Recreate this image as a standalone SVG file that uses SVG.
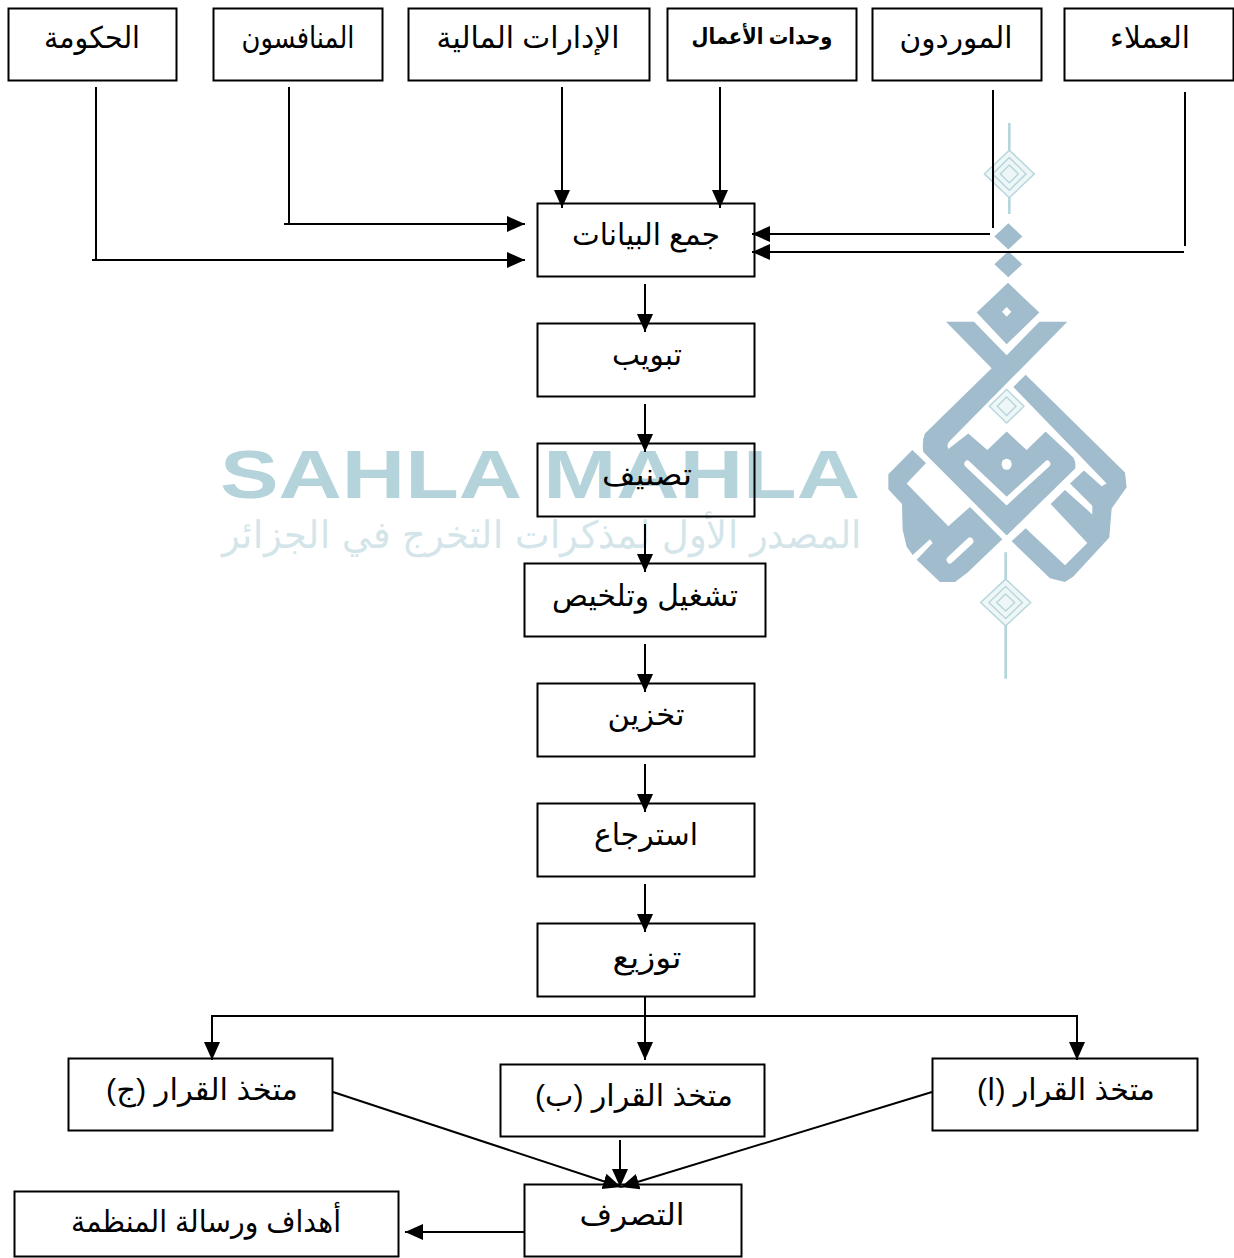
<svg xmlns="http://www.w3.org/2000/svg" width="1234" height="1258" viewBox="0 0 1234 1258">
<style>
.box{fill:none;stroke:#000;stroke-width:2;transform:translate(.5px,.5px)}
.lbl{font-family:"Liberation Sans","DejaVu Sans",sans-serif;font-size:30px;fill:#000;text-anchor:middle;direction:rtl}
.bold{font-weight:bold;font-size:22px}
.c{fill:none;stroke:#000;stroke-width:2}
.a{marker-end:url(#arrow)}
.lg{fill:#a0bccd}
.th{fill:none;stroke:#b5d6dc;stroke-width:4}
.slit{fill:none;stroke:#fff;stroke-width:18;stroke-linecap:round;stroke-linejoin:miter}
</style>
<defs>
<marker id="arrow" markerUnits="userSpaceOnUse" markerWidth="20" markerHeight="18" refX="18" refY="8" orient="auto">
<path d="M0 0L18 8L0 16Z" fill="#000"/>
</marker>
</defs>
<rect width="1234" height="1258" fill="#fff"/>
<g id="watermark">
<text x="540" y="498" text-anchor="middle" textLength="640" lengthAdjust="spacingAndGlyphs" style="font-family:'Liberation Sans',sans-serif;font-weight:bold;font-size:68px;fill:#b5d3da">SAHLA MAHLA</text>
<text x="542" y="548" text-anchor="middle" direction="rtl" textLength="640" lengthAdjust="spacingAndGlyphs" style="font-family:'DejaVu Sans',sans-serif;font-weight:200;font-size:38px;fill:#d3e5e9">المصدر الأول لمذكرات التخرج في الجزائر</text>
<g transform="translate(880,110) scale(.3333,.3717)">
<path class="th" d="M388 35V110M388 235V280M377 1190V1265M377 1385V1530" style="stroke-width:8"/>
<path class="th" d="M388 108L463 172L388 236L313 172ZM388 128L438 172L388 216L338 172ZM388 148L415 172L388 196L361 172Z" style="fill:#eef6f7"/>
<path class="th" d="M377 1262L452 1325L377 1388L302 1325ZM377 1282L427 1325L377 1368L327 1325ZM377 1302L404 1325L377 1348L350 1325Z" style="fill:#eef6f7"/>
<path class="th" d="M380 752L432 797L380 842L328 797ZM380 772L408 797L380 822L352 797Z" style="fill:#eef6f7"/>
<path class="lg" d="M385 305L427 340L385 375L343 340ZM385 380L427 415L385 450L343 415Z"/>
<path class="lg" fill-rule="evenodd" d="M384 465L478 545L380 630L290 545ZM380 530L366 543L380 556L394 543Z"/>
<path class="lg" d="M198 570H282L380 660L478 570H562L210 890Q198 900 205 912L265 870L322 915L380 865L440 915L497 865L580 935Q590 950 585 965L380 1145L130 920Q125 890 135 870L335 695Z"/>
<path class="slit" d="M262 952L380 1052L502 952"/>
<circle cx="380" cy="953" r="15" fill="#fff"/>
<path class="lg" d="M437 712L735 975L740 1015L695 1072L688 1150L580 1255L555 1270L510 1260L395 1160L437 1125L555 1225L622 1165L512 1060L555 1022L637 1088V1065L570 1005L612 970L665 1012L680 1005L400 745Z"/>
<path class="lg" d="M97 915L138 950L80 1005L205 1120L270 1068L367 1155L262 1245L225 1270H180L110 1210L158 1165L150 1155L98 1197L80 1175L68 1130L66 1060L25 1020V980Z"/>
<path class="slit" d="M210 1210L270 1160" style="stroke-width:20"/>
</g>
</g>
<g id="connectors">
<path class="c" d="M96 87V260M289 87V224M993 90V228M1185 92V246"/>
<path class="c a" d="M92 260H525"/>
<path class="c a" d="M284 224H525"/>
<path class="c a" d="M562 87V208"/>
<path class="c a" d="M720 87V208"/>
<path class="c a" d="M990 234H752"/>
<path class="c a" d="M1184 252H752"/>
<path class="c a" d="M645 284V332"/>
<path class="c a" d="M645 404V452"/>
<path class="c a" d="M645 524V572"/>
<path class="c a" d="M645 644V692"/>
<path class="c a" d="M645 764V812"/>
<path class="c a" d="M645 884V932"/>
<path class="c a" d="M645 996V1060"/>
<path class="c a" d="M645 1016H212V1060"/>
<path class="c a" d="M645 1016H1077V1060"/>
<path class="c a" d="M333 1092L621 1187"/>
<path class="c a" d="M932 1092L621 1187"/>
<path class="c a" d="M620 1140V1187"/>
<path class="c a" d="M524 1232H405"/>
</g>
<g id="n-gov"><rect class="box" x="8" y="8" width="168" height="72"/><text class="lbl" x="92" y="48" textLength="96" lengthAdjust="spacingAndGlyphs">الحكومة</text></g>
<g id="n-comp"><rect class="box" x="213" y="8" width="169" height="72"/><text class="lbl" x="298" y="48" textLength="113" lengthAdjust="spacingAndGlyphs">المنافسون</text></g>
<g id="n-fin"><rect class="box" x="408" y="8" width="241" height="72"/><text class="lbl" x="528" y="48" textLength="183" lengthAdjust="spacingAndGlyphs">الإدارات المالية</text></g>
<g id="n-units"><rect class="box" x="667" y="8" width="189" height="72"/><text class="lbl bold" x="762" y="44" textLength="141" lengthAdjust="spacingAndGlyphs">وحدات الأعمال</text></g>
<g id="n-sup"><rect class="box" x="872" y="8" width="169" height="72"/><text class="lbl" x="956" y="48" textLength="113" lengthAdjust="spacingAndGlyphs">الموردون</text></g>
<g id="n-cust"><rect class="box" x="1064" y="8" width="169" height="72"/><text class="lbl" x="1150" y="48" textLength="80" lengthAdjust="spacingAndGlyphs">العملاء</text></g>
<g id="n-collect"><rect class="box" x="537" y="203" width="217" height="73"/><text class="lbl" x="646" y="245" textLength="148" lengthAdjust="spacingAndGlyphs">جمع البيانات</text></g>
<g id="n-tab"><rect class="box" x="537" y="323" width="217" height="73"/><text class="lbl" x="647" y="365" textLength="70" lengthAdjust="spacingAndGlyphs">تبويب</text></g>
<g id="n-class"><rect class="box" x="537" y="443" width="217" height="73"/><text class="lbl" x="647" y="485" textLength="90" lengthAdjust="spacingAndGlyphs">تصنيف</text></g>
<g id="n-proc"><rect class="box" x="524" y="563" width="241" height="73"/><text class="lbl" x="645" y="606" textLength="186" lengthAdjust="spacingAndGlyphs">تشغيل وتلخيص</text></g>
<g id="n-store"><rect class="box" x="537" y="683" width="217" height="73"/><text class="lbl" x="646" y="725" textLength="77" lengthAdjust="spacingAndGlyphs">تخزين</text></g>
<g id="n-retr"><rect class="box" x="537" y="803" width="217" height="73"/><text class="lbl" x="646" y="845" textLength="104" lengthAdjust="spacingAndGlyphs">استرجاع</text></g>
<g id="n-dist"><rect class="box" x="537" y="923" width="217" height="73"/><text class="lbl" x="647" y="968" textLength="69" lengthAdjust="spacingAndGlyphs">توزيع</text></g>
<g id="n-dmc"><rect class="box" x="68" y="1058" width="264" height="72"/><text class="lbl" x="202" y="1100" textLength="192" lengthAdjust="spacingAndGlyphs">متخذ القرار (ج)</text></g>
<g id="n-dmb"><rect class="box" x="500" y="1064" width="264" height="72"/><text class="lbl" x="634" y="1106" textLength="198" lengthAdjust="spacingAndGlyphs">متخذ القرار (ب)</text></g>
<g id="n-dma"><rect class="box" x="932" y="1058" width="265" height="72"/><text class="lbl" x="1066" y="1100" textLength="178" lengthAdjust="spacingAndGlyphs">متخذ القرار (ا)</text></g>
<g id="n-act"><rect class="box" x="524" y="1184" width="217" height="72"/><text class="lbl" x="632" y="1225" textLength="105" lengthAdjust="spacingAndGlyphs">التصرف</text></g>
<g id="n-goal"><rect class="box" x="14" y="1191" width="384" height="65"/><text class="lbl" x="206" y="1232" textLength="270" lengthAdjust="spacingAndGlyphs">أهداف ورسالة المنظمة</text></g>
</svg>
